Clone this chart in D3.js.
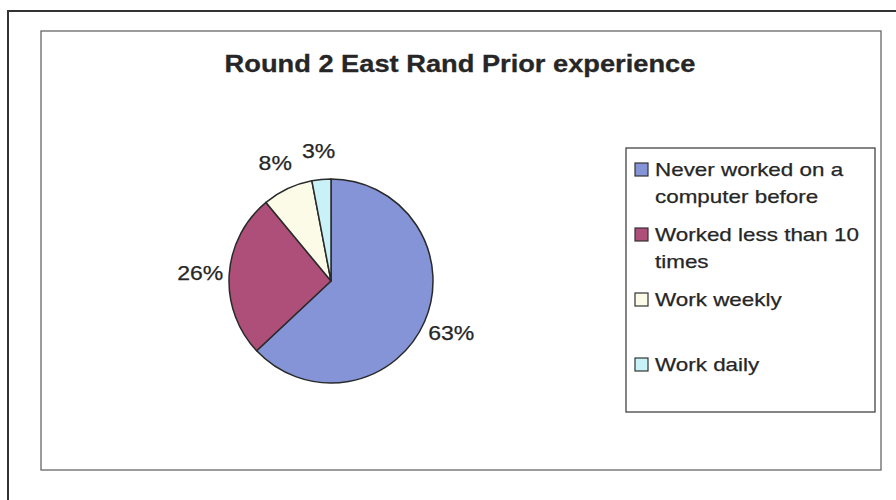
<!DOCTYPE html>
<html>
<head>
<meta charset="utf-8">
<script src="https://cdn.jsdelivr.net/npm/d3@7"></script>
<style>
  html, body { margin: 0; padding: 0; background: #fff; }
  svg { display: block; }
  text { font-family: "Liberation Sans", Arial, sans-serif; fill: #262626; }
</style>
</head>
<body>
<svg id="chart" width="896" height="500"></svg>
<script>
const title = "Round 2 East Rand Prior experience";
const categories = ["Never worked on a computer before", "Worked less than 10 times", "Work weekly", "Work daily"];
const legendLines = [["Never worked on a", "computer before"], ["Worked less than 10", "times"], ["Work weekly"], ["Work daily"]];
const values = [63, 26, 8, 3];
const colors = ["#8494d6", "#ad4f79", "#fbfbe8", "#c8f2f7"];

const svg = d3.select("#chart");
const W = 896, H = 500;

function stretchText(sel, k) {
  sel.each(function () {
    const len = this.getComputedTextLength();
    d3.select(this).attr("textLength", len * k).attr("lengthAdjust", "spacingAndGlyphs");
  });
}

// outer frame (top and left edges visible)
svg.append("path")
  .attr("d", `M8,${H} L8,11 L${W},11`)
  .attr("fill", "none").attr("stroke", "#333").attr("stroke-width", 2);

// chart area frame
svg.append("rect")
  .attr("x", 41).attr("y", 31).attr("width", 840).attr("height", 439)
  .attr("fill", "#fff").attr("stroke", "#666").attr("stroke-width", 1.3);

// title
svg.append("text")
  .attr("x", 460).attr("y", 72)
  .attr("text-anchor", "middle")
  .attr("font-size", 24).attr("font-weight", "bold")
  .attr("stroke", "#262626").attr("stroke-width", 0.3)
  .text(title)
  .call(stretchText, 1.135);

// pie
const cx = 331, cy = 281, r = 102;
const pie = d3.pie().sort(null).value(d => d)(values);
const arc = d3.arc().innerRadius(0).outerRadius(r);
const labelArc = d3.arc().innerRadius(131).outerRadius(131);
const g = svg.append("g").attr("transform", `translate(${cx},${cy})`);

g.selectAll("path.slice").data(pie).join("path")
  .attr("class", "slice")
  .attr("d", arc)
  .attr("fill", (d, i) => colors[i])
  .attr("stroke", "#2a2a2a").attr("stroke-width", 1.5)
  .attr("stroke-linejoin", "round");

g.selectAll("text.lbl").data(pie).join("text")
  .attr("class", "lbl")
  .attr("x", d => labelArc.centroid(d)[0])
  .attr("y", d => labelArc.centroid(d)[1])
  .attr("text-anchor", "middle")
  .attr("dy", "0.36em")
  .attr("font-size", 20)
  .attr("stroke", "#262626").attr("stroke-width", 0.25)
  .text(d => d.data + "%")
  .call(stretchText, 1.15);

// legend
const lx = 626, ly = 148;
svg.append("rect")
  .attr("x", lx).attr("y", ly).attr("width", 249).attr("height", 264)
  .attr("fill", "#fff").attr("stroke", "#444").attr("stroke-width", 1.3);

const itemY = [176, 241, 306, 371];
categories.forEach((c, i) => {
  const base = itemY[i];
  svg.append("rect")
    .attr("x", 635).attr("y", base - 13).attr("width", 13).attr("height", 13)
    .attr("fill", colors[i]).attr("stroke", "#333").attr("stroke-width", 1.2);
  legendLines[i].forEach((line, j) => {
    svg.append("text")
      .attr("x", 655).attr("y", base + j * 26.5)
      .attr("font-size", 19)
      .attr("stroke", "#262626").attr("stroke-width", 0.25)
      .text(line)
      .call(stretchText, 1.18);
  });
});
</script>
</body>
</html>
